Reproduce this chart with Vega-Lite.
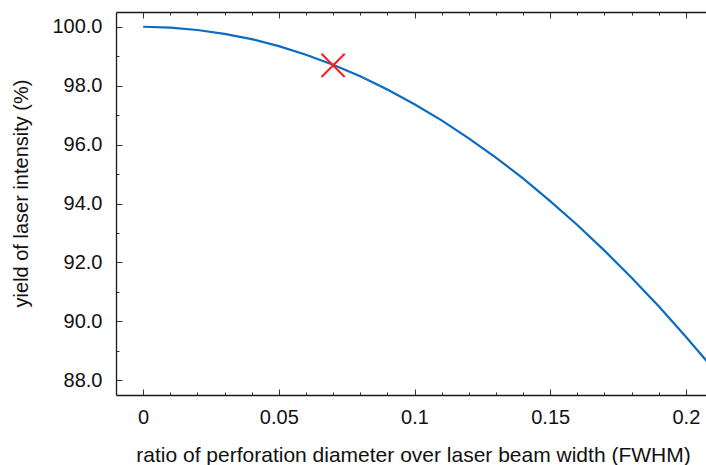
{
  "$schema": "https://vega.github.io/schema/vega-lite/v6.json",
  "autosize": "none",
  "padding": {"left": 116, "top": 12, "right": 0, "bottom": 70},
  "width": 597,
  "height": 383,
  "background": "white",
  "config": {
    "view": {"stroke": null},
    "font": "Liberation Sans",
    "axis": {
      "grid": false,
      "domainColor": "#1a1a1a",
      "domainWidth": 1.3,
      "tickColor": "#333333",
      "tickWidth": 1,
      "labelFont": "Liberation Sans",
      "labelFontSize": 20,
      "labelColor": "#111111",
      "titleFont": "Liberation Sans",
      "titleFontSize": 20,
      "titleFontWeight": "normal",
      "titleColor": "#111111"
    }
  },
  "datasets": {
    "curve": [
      {"r": 0.00, "y": 100.00},
      {"r": 0.01, "y": 99.97},
      {"r": 0.02, "y": 99.89},
      {"r": 0.03, "y": 99.76},
      {"r": 0.04, "y": 99.58},
      {"r": 0.05, "y": 99.34},
      {"r": 0.06, "y": 99.05},
      {"r": 0.07, "y": 98.71},
      {"r": 0.08, "y": 98.32},
      {"r": 0.09, "y": 97.87},
      {"r": 0.10, "y": 97.37},
      {"r": 0.11, "y": 96.82},
      {"r": 0.12, "y": 96.21},
      {"r": 0.13, "y": 95.56},
      {"r": 0.14, "y": 94.85},
      {"r": 0.15, "y": 94.08},
      {"r": 0.16, "y": 93.27},
      {"r": 0.17, "y": 92.40},
      {"r": 0.18, "y": 91.48},
      {"r": 0.19, "y": 90.51},
      {"r": 0.20, "y": 89.48},
      {"r": 0.21, "y": 88.40}
    ],
    "marker": [
      {"r": 0.07, "y": 98.69}
    ]
  },
  "resolve": {"axis": {"x": "independent", "y": "independent"}},
  "layer": [
    {
      "data": {"name": "curve"},
      "mark": {"type": "line", "color": "#0b6cc0", "strokeWidth": 2.2, "clip": true},
      "encoding": {
        "x": {
          "field": "r", "type": "quantitative",
          "scale": {"domain": [-0.01, 0.21], "nice": false, "zero": false},
          "axis": {
            "orient": "bottom",
            "title": "ratio of perforation diameter over laser beam width (FWHM)",
            "titleFontSize": 21,
            "titleX": 297,
            "titlePadding": 14,
            "values": [0, 0.01, 0.02, 0.03, 0.04, 0.05, 0.06, 0.07, 0.08, 0.09, 0.1, 0.11, 0.12, 0.13, 0.14, 0.15, 0.16, 0.17, 0.18, 0.19, 0.2],
            "labelExpr": "round(datum.value*100) % 5 == 0 ? format(datum.value, '~g') : ''",
            "tickSize": {"condition": {"test": "round(datum.value*100) % 5 == 0", "value": -6}, "value": -3},
            "labelPadding": 18,
            "labelFlush": false,
            "labelOverlap": false
          }
        },
        "y": {
          "field": "y", "type": "quantitative",
          "scale": {"domain": [87.5, 100.5], "nice": false, "zero": false},
          "axis": {
            "orient": "left",
            "title": "yield of laser intensity (%)",
            "titleY": 181,
            "titlePadding": 20,
            "values": [88, 89, 90, 91, 92, 93, 94, 95, 96, 97, 98, 99, 100],
            "labelExpr": "datum.value % 2 == 0 ? format(datum.value, '.1f') : ''",
            "tickSize": {"condition": {"test": "datum.value % 2 == 0", "value": -6}, "value": -3},
            "labelPadding": 20,
            "labelFlush": false,
            "labelOverlap": false
          }
        }
      }
    },
    {
      "data": {"name": "marker"},
      "mark": {
        "type": "point",
        "shape": "M-1,-1L1,1M-1,1L1,-1",
        "filled": false,
        "stroke": "#ff1a1a",
        "strokeWidth": 2,
        "size": 540,
        "opacity": 1
      },
      "encoding": {
        "x": {
          "field": "r", "type": "quantitative",
          "scale": {"domain": [-0.01, 0.21], "nice": false, "zero": false},
          "axis": {
            "orient": "top",
            "title": null,
            "labels": false,
            "values": [0, 0.01, 0.02, 0.03, 0.04, 0.05, 0.06, 0.07, 0.08, 0.09, 0.1, 0.11, 0.12, 0.13, 0.14, 0.15, 0.16, 0.17, 0.18, 0.19, 0.2],
            "tickSize": {"condition": {"test": "round(datum.value*100) % 5 == 0", "value": -6}, "value": -3}
          }
        },
        "y": {
          "field": "y", "type": "quantitative",
          "scale": {"domain": [87.5, 100.5], "nice": false, "zero": false},
          "axis": {
            "orient": "right",
            "title": null,
            "labels": false,
            "values": [88, 89, 90, 91, 92, 93, 94, 95, 96, 97, 98, 99, 100],
            "tickSize": {"condition": {"test": "datum.value % 2 == 0", "value": -6}, "value": -3}
          }
        }
      }
    }
  ]
}
